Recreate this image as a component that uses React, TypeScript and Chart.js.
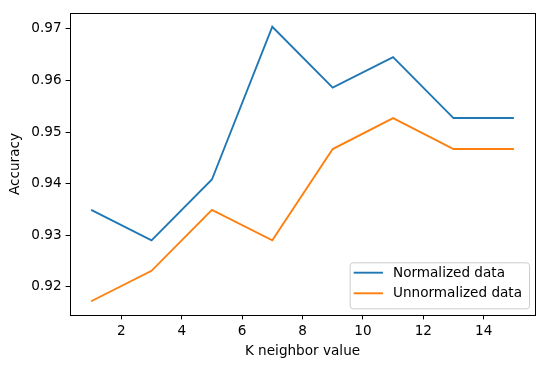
import React, { useEffect, useRef } from "react";
import { Chart, registerables } from "chart.js";

Chart.register(...registerables);

const kValues = [1, 3, 5, 7, 9, 11, 13, 15];
const normalized = [0.9349, 0.929, 0.9408, 0.9704, 0.9586, 0.9645, 0.9527, 0.9527];
const unnormalized = [0.9172, 0.9231, 0.9349, 0.929, 0.9467, 0.9527, 0.9467, 0.9467];
const xTicks = [2, 4, 6, 8, 10, 12, 14];
const yTicks = [0.92, 0.93, 0.94, 0.95, 0.96, 0.97];
const seriesNames = ["Normalized data", "Unnormalized data"];
const seriesColors = ["#1f77b4", "#ff7f0e"];

const FONT = "'DejaVu Sans', sans-serif";
const FS = 13.6;

const framePlugin = {
  id: "frame",
  afterDatasetsDraw(chart: any) {
    const { ctx, chartArea: a } = chart;
    ctx.save();
    ctx.strokeStyle = "#000";
    ctx.lineWidth = 1;
    ctx.strokeRect(Math.round(a.left) + 0.5, Math.round(a.top) + 0.5, Math.round(a.right - a.left), Math.round(a.bottom - a.top));
    ctx.restore();
  },
};

const legendPlugin = {
  id: "mplLegend",
  afterDraw(chart: any) {
    const { ctx, chartArea: a } = chart;
    const ds = chart.data.datasets;
    ctx.save();
    ctx.font = `${FS}px ${FONT}`;
    let maxW = 0;
    ds.forEach((d: any) => (maxW = Math.max(maxW, ctx.measureText(d.label).width)));
    const padL = 4, handle = 29.3, gap = 10, padR = 7;
    const w = padL + handle + gap + maxW + padR;
    const h = 46;
    const right = a.right - 6;
    const bottom = a.bottom - 6.7;
    const x0 = right - w;
    const y0 = bottom - h;
    ctx.beginPath();
    (ctx as any).roundRect(x0 + 0.5, y0 + 0.5, w, h, 3);
    ctx.fillStyle = "rgba(255,255,255,0.8)";
    ctx.fill();
    ctx.strokeStyle = "#cccccc";
    ctx.lineWidth = 1;
    ctx.stroke();
    ds.forEach((d: any, i: number) => {
      const cy = y0 + 10.4 + i * 20.6;
      ctx.beginPath();
      ctx.moveTo(x0 + padL, cy);
      ctx.lineTo(x0 + padL + handle, cy);
      ctx.strokeStyle = d.borderColor;
      ctx.lineWidth = 1.9;
      ctx.stroke();
      ctx.fillStyle = "#000";
      ctx.textBaseline = "middle";
      ctx.textAlign = "left";
      ctx.fillText(d.label, x0 + padL + handle + gap, cy + 0.5);
    });
    ctx.restore();
  },
};

export default function App() {
  const ref = useRef<HTMLCanvasElement | null>(null);
  useEffect(() => {
    document.body.style.margin = "0";
    if (!ref.current) return;
    const chart = new Chart(ref.current, {
      type: "line",
      data: {
        datasets: [normalized, unnormalized].map((vals, i) => ({
          label: seriesNames[i],
          data: kValues.map((k, j) => ({ x: k, y: vals[j] })),
          borderColor: seriesColors[i],
          backgroundColor: seriesColors[i],
          borderWidth: 1.9,
          pointRadius: 0,
          tension: 0,
          fill: false,
        })),
      },
      options: {
        animation: false,
        responsive: false,
        events: [],
        layout: { padding: { left: 0, right: 13, top: 13, bottom: 0 } },
        plugins: { legend: { display: false }, tooltip: { enabled: false } },
        scales: {
          x: {
            type: "linear",
            min: 0.3,
            max: 15.7,
            afterFit: (s: any) => { s.height = 53; },
            afterBuildTicks: (s: any) => { s.ticks = xTicks.map((v) => ({ value: v })); },
            grid: { display: true, drawOnChartArea: false, drawTicks: true, tickLength: 4.4, color: "#000", lineWidth: 1 },
            border: { display: false },
            ticks: { color: "#000", font: { family: FONT, size: FS }, padding: 4, maxRotation: 0, autoSkip: false },
            title: { display: true, text: "K neighbor value", color: "#000", font: { family: FONT, size: FS }, padding: { top: 0, bottom: 8.8 } },
          },
          y: {
            type: "linear",
            min: 0.91454,
            max: 0.97306,
            afterFit: (s: any) => { s.width = 70; },
            afterBuildTicks: (s: any) => { s.ticks = yTicks.map((v) => ({ value: v })); },
            grid: { display: true, drawOnChartArea: false, drawTicks: true, tickLength: 4.4, color: "#000", lineWidth: 1 },
            border: { display: false },
            ticks: { color: "#000", font: { family: FONT, size: FS }, padding: 4, autoSkip: false, callback: (v: any) => Number(v).toFixed(2) },
            title: { display: true, text: "Accuracy", color: "#000", font: { family: FONT, size: FS }, padding: { top: 7.5, bottom: 0 } },
          },
        },
      },
      plugins: [framePlugin, legendPlugin],
    } as any);
    return () => chart.destroy();
  }, []);
  return (
    <div style={{ width: 548, height: 368 }}>
      <canvas ref={ref} width={548} height={368} style={{ display: "block" }} />
    </div>
  );
}
